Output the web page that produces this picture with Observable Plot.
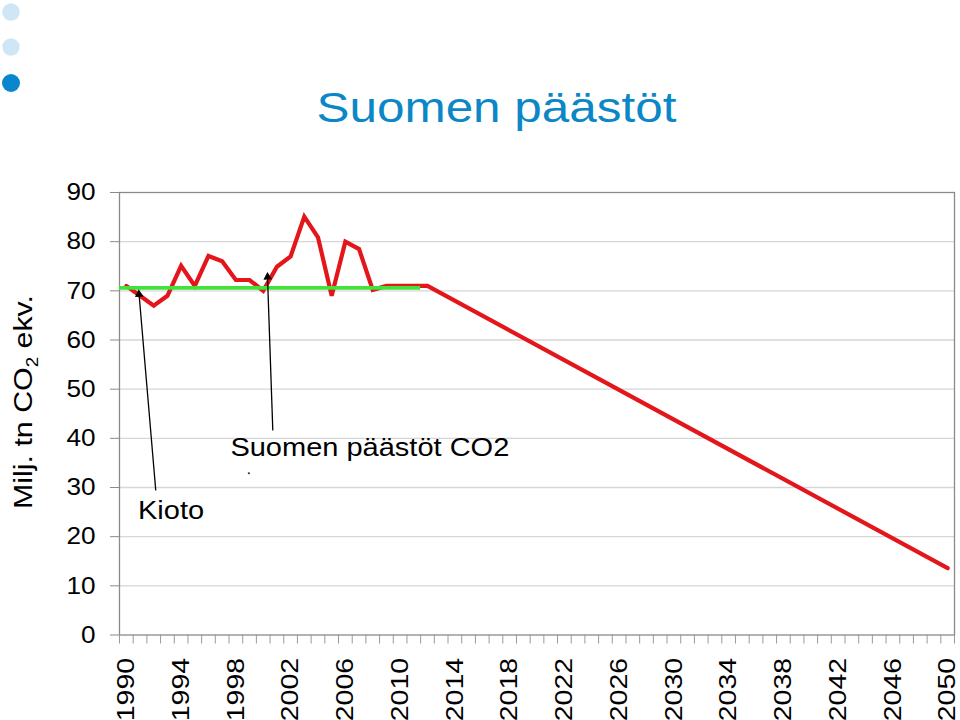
<!DOCTYPE html>
<html>
<head>
<meta charset="utf-8">
<script src="https://cdn.jsdelivr.net/npm/d3@7"></script>
<script src="https://cdn.jsdelivr.net/npm/@observablehq/plot@0.6"></script>
<style>
  html, body { margin: 0; padding: 0; background: #fff; }
  #wrap { position: relative; width: 960px; height: 720px; overflow: hidden; font-family: "Liberation Sans", Arial, sans-serif; }
  #wrap svg { position: absolute; left: 0; top: 0; }
</style>
</head>
<body>
<div id="wrap"></div>
<script>
// ---- data ----
const years = [1990, 1991, 1992, 1993, 1994, 1995, 1996, 1997, 1998, 1999, 2000,
               2001, 2002, 2003, 2004, 2005, 2006, 2007, 2008, 2009, 2010, 2011, 2012, 2050];
const emissions = [71.0, 69.0, 67.0, 69.0, 75.1, 71.0, 77.1, 76.0, 72.2, 72.2, 70.0,
                   74.9, 77.0, 85.1, 80.9, 69.0, 80.0, 78.5, 70.2, 71.0, 71.0, 71.0, 71.0, 13.6];
const kyotoLevel = 70.6;
const kyotoFrom = 1989.5;
const kyotoTo = 2011.5;
const yTicks = [0, 10, 20, 30, 40, 50, 60, 70, 80, 90];
const yearLabels = [1990, 1994, 1998, 2002, 2006, 2010, 2014, 2018, 2022, 2026, 2030, 2034, 2038, 2042, 2046, 2050];
const titleText = "Suomen päästöt";
const seriesLabel = "Suomen päästöt CO2";
const kyotoLabel = "Kioto";
// annotation anchors (data units)
const arrowsData = [
  {x1: 1992.15, y1: 29.4, x2: 1990.92, y2: 69.6, hx: 1990.93, hy: 69.3, rot: -4.8},
  {x1: 2000.7, y1: 41.6, x2: 2000.31, y2: 73.0, hx: 2000.32, hy: 72.8, rot: -2.5}
];
const labelsData = [
  {x: 1990.85, y: 25.3, text: kyotoLabel},
  {x: 1997.6, y: 38.0, text: seriesLabel}
];

const data = years.map((y, i) => ({year: y, value: emissions[i]}));
const minorTicks = d3.range(1989.5, 2051, 1);

const plot = Plot.plot({
  width: 960,
  height: 720,
  marginLeft: 119,
  marginRight: 6,
  marginTop: 192,
  marginBottom: 85.5,
  style: {fontFamily: "'Liberation Sans', Arial, sans-serif", background: "transparent", overflow: "visible"},
  x: {type: "linear", domain: [1989.5, 2050.5]},
  y: {domain: [0, 90]},
  marks: [
    Plot.ruleY(yTicks.filter(d => d > 0 && d < 90), {stroke: "#d6d6d6", strokeWidth: 1.3}),
    Plot.frame({stroke: "#8a8a8a", strokeWidth: 1.3}),
    Plot.axisY({ticks: yTicks, tickSize: 9, tickPadding: 15, fontSize: 24, stroke: "#8a8a8a", fill: "#000", label: null}),
    Plot.axisX({ticks: minorTicks, tickSize: 9, stroke: "#9a9a9a", text: null, label: null}),
    Plot.axisX({ticks: yearLabels, tickSize: 0, tickPadding: 23, tickRotate: -90, fontSize: 24.5, fill: "#000", label: null, tickFormat: d => String(d)}),
    Plot.line(data, {x: "year", y: "value", stroke: "#e3161b", strokeWidth: 4.2, strokeLinejoin: "miter", strokeMiterlimit: 4}),
    Plot.ruleY([kyotoLevel], {x1: kyotoFrom, x2: kyotoTo, stroke: "#3fe33a", strokeWidth: 3.6}),
    Plot.link(arrowsData, {x1: "x1", y1: "y1", x2: "x2", y2: "y2", stroke: "#000", strokeWidth: 1.3}),
    Plot.dot(arrowsData, {x: "hx", y: "hy", symbol: "triangle", r: 3.2, fill: "#000", stroke: null, rotate: "rot"}),
    Plot.text(labelsData, {x: "x", y: "y", text: "text", textAnchor: "start", fontSize: 25, fill: "#000"}),
    Plot.dot([{x: 1998.95, y: 32.9}], {x: "x", y: "y", r: 1.1, fill: "#333", stroke: null})
  ]
});

const wrap = document.getElementById("wrap");
wrap.appendChild(plot);

function stretch(root, sel, k) {
  root.querySelectorAll(sel).forEach(t => {
    const L = t.getComputedTextLength();
    if (L > 0) {
      t.setAttribute("textLength", (L * k).toFixed(2));
      t.setAttribute("lengthAdjust", "spacingAndGlyphs");
    }
  });
}
stretch(plot, 'g[aria-label="y-axis tick label"] text', 1.09);
stretch(plot, 'g[aria-label="x-axis tick label"] text', 1.16);
stretch(plot, 'g[aria-label="text"] text', 1.16);

// overlay: title, decorative dots, y-axis title
const ov = d3.create("svg").attr("width", 960).attr("height", 720)
  .style("font-family", "'Liberation Sans', Arial, sans-serif");
ov.append("circle").attr("cx", 11).attr("cy", 12).attr("r", 8.7).attr("fill", "#cfe7f5");
ov.append("circle").attr("cx", 11).attr("cy", 47).attr("r", 8.7).attr("fill", "#cfe7f5");
ov.append("circle").attr("cx", 11).attr("cy", 83).attr("r", 9).attr("fill", "#0a87cc");
ov.append("text").attr("x", 496.5).attr("y", 121.5).attr("text-anchor", "middle")
  .attr("font-size", 43).attr("fill", "#0b87c7")
  .attr("textLength", 360).attr("lengthAdjust", "spacingAndGlyphs")
  .text(titleText);
const yl = ov.append("text").attr("transform", "translate(31.7,402) rotate(-90)")
  .attr("text-anchor", "middle").attr("font-size", 26).attr("fill", "#000")
  .attr("textLength", 214).attr("lengthAdjust", "spacingAndGlyphs");
yl.append("tspan").text("Milj. tn CO");
yl.append("tspan").attr("font-size", 16).attr("dy", 6).text("2");
yl.append("tspan").attr("dy", -6).text(" ekv.");
wrap.appendChild(ov.node());
</script>
</body>
</html>
